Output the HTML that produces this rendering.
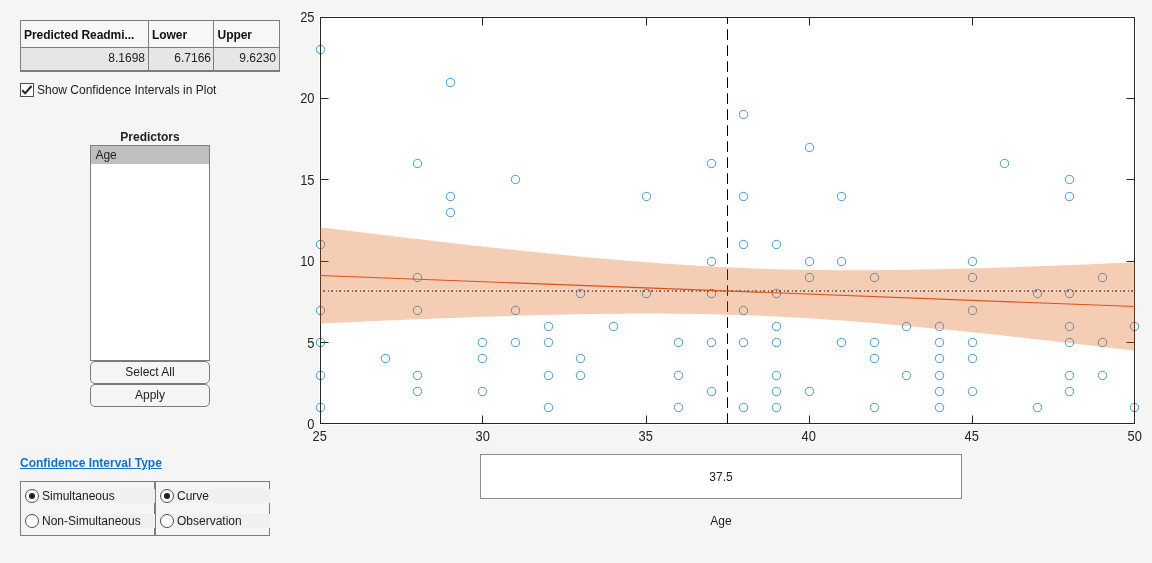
<!DOCTYPE html>
<html><head><meta charset="utf-8"><title>Prediction Slice Plots</title>
<style>
html,body{margin:0;padding:0}
body{width:1152px;height:563px;background:#f5f5f5;position:relative;overflow:hidden;font-family:"Liberation Sans",sans-serif;font-size:12px;color:#212121}
.abs{position:absolute;box-sizing:border-box}
.tbl{left:20px;top:20px;width:260px;height:52px;border:1px solid #7d7d7d;border-bottom:2px solid #7d7d7d;background:#f7f7f7}
.tbl .h{position:absolute;top:0;height:27px;line-height:29px;font-weight:bold;color:#111;letter-spacing:-0.06px;padding-left:3px;box-sizing:border-box;border-bottom:1px solid #7d7d7d;white-space:nowrap;overflow:hidden}
.tbl .d{position:absolute;top:27px;height:22px;line-height:21px;text-align:right;padding-right:3px;box-sizing:border-box;background:#e6e6e6}
.c1{left:0;width:128px;border-right:1px solid #7d7d7d}
.c2{left:128px;width:65px;border-right:1px solid #7d7d7d}
.c3{left:193px;width:65px}
.cb{left:20px;top:83px;width:14px;height:14px;border:1px solid #4d4d4d;background:#fff}
.btn{left:90px;width:120px;height:23px;border:1px solid #7a7a7a;border-radius:5px;text-align:center;line-height:21px;background:#f5f5f5}
.grp{border:1px solid #7d7d7d;top:481px;height:55px}
.row{position:absolute;height:14px;background:#f0f0f0;line-height:14px;white-space:nowrap}
.rad{position:absolute;left:0;top:0;width:14px;height:14px;border:1px solid #4d4d4d;border-radius:50%;background:#fff;box-sizing:border-box}
.rad.on::after{content:"";position:absolute;left:3px;top:3px;width:6px;height:6px;border-radius:50%;background:#212121}
.row span{position:absolute;left:17px;top:0}
#w{position:absolute;left:0;top:0;width:1152px;height:563px;will-change:transform}
</style></head><body><div id="w">
<svg width="1152" height="563" viewBox="0 0 1152 563" style="position:absolute;left:0;top:0">
<defs><clipPath id="cp"><rect x="320.5" y="17.5" width="814.0" height="406.0"/></clipPath><clipPath id="cp2"><rect x="320" y="17" width="815" height="407"/></clipPath></defs>
<rect x="319" y="16" width="817" height="409" fill="#fff"/>
<g fill="none" stroke="#0072BD" stroke-width="0.7"><circle cx="320.50" cy="49.50" r="4.2"/><circle cx="320.50" cy="244.50" r="4.2"/><circle cx="320.50" cy="310.50" r="4.2"/><circle cx="320.50" cy="342.50" r="4.2"/><circle cx="320.50" cy="375.50" r="4.2"/><circle cx="320.50" cy="407.50" r="4.2"/><circle cx="385.50" cy="358.50" r="4.2"/><circle cx="417.50" cy="163.50" r="4.2"/><circle cx="417.50" cy="277.50" r="4.2"/><circle cx="417.50" cy="310.50" r="4.2"/><circle cx="417.50" cy="375.50" r="4.2"/><circle cx="417.50" cy="391.50" r="4.2"/><circle cx="450.50" cy="82.50" r="4.2"/><circle cx="450.50" cy="196.50" r="4.2"/><circle cx="450.50" cy="212.50" r="4.2"/><circle cx="482.50" cy="342.50" r="4.2"/><circle cx="482.50" cy="358.50" r="4.2"/><circle cx="482.50" cy="391.50" r="4.2"/><circle cx="515.50" cy="179.50" r="4.2"/><circle cx="515.50" cy="310.50" r="4.2"/><circle cx="515.50" cy="342.50" r="4.2"/><circle cx="548.50" cy="326.50" r="4.2"/><circle cx="548.50" cy="342.50" r="4.2"/><circle cx="548.50" cy="375.50" r="4.2"/><circle cx="548.50" cy="407.50" r="4.2"/><circle cx="580.50" cy="293.50" r="4.2"/><circle cx="580.50" cy="358.50" r="4.2"/><circle cx="580.50" cy="375.50" r="4.2"/><circle cx="613.50" cy="326.50" r="4.2"/><circle cx="646.50" cy="196.50" r="4.2"/><circle cx="646.50" cy="293.50" r="4.2"/><circle cx="678.50" cy="342.50" r="4.2"/><circle cx="678.50" cy="375.50" r="4.2"/><circle cx="678.50" cy="407.50" r="4.2"/><circle cx="711.50" cy="163.50" r="4.2"/><circle cx="711.50" cy="261.50" r="4.2"/><circle cx="711.50" cy="293.50" r="4.2"/><circle cx="711.50" cy="342.50" r="4.2"/><circle cx="711.50" cy="391.50" r="4.2"/><circle cx="743.50" cy="114.50" r="4.2"/><circle cx="743.50" cy="196.50" r="4.2"/><circle cx="743.50" cy="244.50" r="4.2"/><circle cx="743.50" cy="310.50" r="4.2"/><circle cx="743.50" cy="342.50" r="4.2"/><circle cx="743.50" cy="407.50" r="4.2"/><circle cx="776.50" cy="244.50" r="4.2"/><circle cx="776.50" cy="293.50" r="4.2"/><circle cx="776.50" cy="326.50" r="4.2"/><circle cx="776.50" cy="342.50" r="4.2"/><circle cx="776.50" cy="375.50" r="4.2"/><circle cx="776.50" cy="391.50" r="4.2"/><circle cx="776.50" cy="407.50" r="4.2"/><circle cx="809.50" cy="147.50" r="4.2"/><circle cx="809.50" cy="261.50" r="4.2"/><circle cx="809.50" cy="277.50" r="4.2"/><circle cx="809.50" cy="391.50" r="4.2"/><circle cx="841.50" cy="196.50" r="4.2"/><circle cx="841.50" cy="261.50" r="4.2"/><circle cx="841.50" cy="342.50" r="4.2"/><circle cx="874.50" cy="277.50" r="4.2"/><circle cx="874.50" cy="342.50" r="4.2"/><circle cx="874.50" cy="358.50" r="4.2"/><circle cx="874.50" cy="407.50" r="4.2"/><circle cx="906.50" cy="326.50" r="4.2"/><circle cx="906.50" cy="375.50" r="4.2"/><circle cx="939.50" cy="326.50" r="4.2"/><circle cx="939.50" cy="342.50" r="4.2"/><circle cx="939.50" cy="358.50" r="4.2"/><circle cx="939.50" cy="375.50" r="4.2"/><circle cx="939.50" cy="391.50" r="4.2"/><circle cx="939.50" cy="407.50" r="4.2"/><circle cx="972.50" cy="261.50" r="4.2"/><circle cx="972.50" cy="277.50" r="4.2"/><circle cx="972.50" cy="310.50" r="4.2"/><circle cx="972.50" cy="342.50" r="4.2"/><circle cx="972.50" cy="358.50" r="4.2"/><circle cx="972.50" cy="391.50" r="4.2"/><circle cx="1004.50" cy="163.50" r="4.2"/><circle cx="1037.50" cy="293.50" r="4.2"/><circle cx="1037.50" cy="407.50" r="4.2"/><circle cx="1069.50" cy="179.50" r="4.2"/><circle cx="1069.50" cy="196.50" r="4.2"/><circle cx="1069.50" cy="293.50" r="4.2"/><circle cx="1069.50" cy="326.50" r="4.2"/><circle cx="1069.50" cy="342.50" r="4.2"/><circle cx="1069.50" cy="375.50" r="4.2"/><circle cx="1069.50" cy="391.50" r="4.2"/><circle cx="1102.50" cy="277.50" r="4.2"/><circle cx="1102.50" cy="342.50" r="4.2"/><circle cx="1102.50" cy="375.50" r="4.2"/><circle cx="1134.50" cy="326.50" r="4.2"/><circle cx="1134.50" cy="407.50" r="4.2"/></g>
<g fill="none" stroke="#262626" stroke-width="1"><rect x="320.5" y="17.5" width="814.0" height="406.0"/><path d="M482.50 423.5v-8 M482.50 17.5v8"/><path d="M646.50 423.5v-8 M646.50 17.5v8"/><path d="M809.50 423.5v-8 M809.50 17.5v8"/><path d="M972.50 423.5v-8 M972.50 17.5v8"/><path d="M320.5 342.50h8 M1134.5 342.50h-8"/><path d="M320.5 261.50h8 M1134.5 261.50h-8"/><path d="M320.5 179.50h8 M1134.5 179.50h-8"/><path d="M320.5 98.50h8 M1134.5 98.50h-8"/></g>
<line x1="727.5" y1="423.9" x2="727.5" y2="17.5" stroke="#000" stroke-width="1" stroke-dasharray="10.67 5.33"/>
<path d="M320.00 227.36 L328.15 228.36 L336.30 229.36 L344.45 230.35 L352.60 231.34 L360.75 232.33 L368.90 233.31 L377.05 234.29 L385.20 235.27 L393.35 236.24 L401.50 237.21 L409.65 238.17 L417.80 239.12 L425.95 240.07 L434.10 241.02 L442.25 241.96 L450.40 242.89 L458.55 243.81 L466.70 244.73 L474.85 245.64 L483.00 246.55 L491.15 247.44 L499.30 248.33 L507.45 249.21 L515.60 250.08 L523.75 250.94 L531.90 251.79 L540.05 252.62 L548.20 253.45 L556.35 254.26 L564.50 255.07 L572.65 255.85 L580.80 256.63 L588.95 257.39 L597.10 258.13 L605.25 258.86 L613.40 259.57 L621.55 260.26 L629.70 260.94 L637.85 261.60 L646.00 262.23 L654.15 262.85 L662.30 263.44 L670.45 264.01 L678.60 264.56 L686.75 265.09 L694.90 265.59 L703.05 266.06 L711.20 266.51 L719.35 266.94 L727.50 267.34 L735.65 267.71 L743.80 268.06 L751.95 268.38 L760.10 268.67 L768.25 268.93 L776.40 269.17 L784.55 269.39 L792.70 269.57 L800.85 269.73 L809.00 269.87 L817.15 269.98 L825.30 270.07 L833.45 270.14 L841.60 270.18 L849.75 270.20 L857.90 270.20 L866.05 270.17 L874.20 270.13 L882.35 270.07 L890.50 269.99 L898.65 269.90 L906.80 269.79 L914.95 269.66 L923.10 269.52 L931.25 269.36 L939.40 269.19 L947.55 269.00 L955.70 268.81 L963.85 268.60 L972.00 268.38 L980.15 268.15 L988.30 267.91 L996.45 267.65 L1004.60 267.39 L1012.75 267.13 L1020.90 266.85 L1029.05 266.56 L1037.20 266.27 L1045.35 265.97 L1053.50 265.67 L1061.65 265.35 L1069.80 265.03 L1077.95 264.71 L1086.10 264.38 L1094.25 264.04 L1102.40 263.70 L1110.55 263.36 L1118.70 263.01 L1126.85 262.65 L1135.00 262.29 L1135.00 350.79 L1126.85 349.81 L1118.70 348.84 L1110.55 347.86 L1102.40 346.90 L1094.25 345.93 L1086.10 344.98 L1077.95 344.02 L1069.80 343.08 L1061.65 342.14 L1053.50 341.20 L1045.35 340.27 L1037.20 339.35 L1029.05 338.44 L1020.90 337.53 L1012.75 336.63 L1004.60 335.74 L996.45 334.86 L988.30 333.99 L980.15 333.12 L972.00 332.27 L963.85 331.43 L955.70 330.60 L947.55 329.78 L939.40 328.97 L931.25 328.18 L923.10 327.40 L914.95 326.64 L906.80 325.89 L898.65 325.15 L890.50 324.43 L882.35 323.73 L874.20 323.05 L866.05 322.39 L857.90 321.75 L849.75 321.12 L841.60 320.52 L833.45 319.94 L825.30 319.38 L817.15 318.85 L809.00 318.34 L800.85 317.85 L792.70 317.39 L784.55 316.96 L776.40 316.55 L768.25 316.17 L760.10 315.81 L751.95 315.48 L743.80 315.18 L735.65 314.90 L727.50 314.65 L719.35 314.43 L711.20 314.23 L703.05 314.06 L694.90 313.92 L686.75 313.80 L678.60 313.70 L670.45 313.63 L662.30 313.58 L654.15 313.55 L646.00 313.54 L637.85 313.56 L629.70 313.59 L621.55 313.64 L613.40 313.71 L605.25 313.80 L597.10 313.91 L588.95 314.03 L580.80 314.17 L572.65 314.32 L564.50 314.49 L556.35 314.67 L548.20 314.86 L540.05 315.06 L531.90 315.28 L523.75 315.51 L515.60 315.74 L507.45 315.99 L499.30 316.25 L491.15 316.51 L483.00 316.79 L474.85 317.07 L466.70 317.36 L458.55 317.65 L450.40 317.96 L442.25 318.27 L434.10 318.59 L425.95 318.91 L417.80 319.24 L409.65 319.57 L401.50 319.91 L393.35 320.25 L385.20 320.60 L377.05 320.96 L368.90 321.31 L360.75 321.67 L352.60 322.04 L344.45 322.41 L336.30 322.78 L328.15 323.16 L320.00 323.54Z" fill="#DE5805" fill-opacity="0.3" clip-path="url(#cp2)"/>
<line x1="323" y1="291.00" x2="1134.5" y2="291.00" stroke="#262626" stroke-opacity="0.75" stroke-width="1.33" stroke-dasharray="2 3 1 2"/>
<line x1="320.00" y1="275.45" x2="1135.00" y2="306.54" stroke="#D95319" stroke-width="1.1"/>
<g font-family="Liberation Sans, sans-serif" font-size="14" fill="#262626"><text transform="translate(319.65,441.2) scale(0.92,1)" text-anchor="middle">25</text><text transform="translate(482.65,441.2) scale(0.92,1)" text-anchor="middle">30</text><text transform="translate(645.65,441.2) scale(0.92,1)" text-anchor="middle">35</text><text transform="translate(808.65,441.2) scale(0.92,1)" text-anchor="middle">40</text><text transform="translate(971.65,441.2) scale(0.92,1)" text-anchor="middle">45</text><text transform="translate(1134.65,441.2) scale(0.92,1)" text-anchor="middle">50</text><text transform="translate(314.5,429.00) scale(0.92,1)" text-anchor="end">0</text><text transform="translate(314.5,347.60) scale(0.92,1)" text-anchor="end">5</text><text transform="translate(314.5,266.20) scale(0.92,1)" text-anchor="end">10</text><text transform="translate(314.5,184.80) scale(0.92,1)" text-anchor="end">15</text><text transform="translate(314.5,103.40) scale(0.92,1)" text-anchor="end">20</text><text transform="translate(314.5,22.00) scale(0.92,1)" text-anchor="end">25</text></g>
</svg>
<div class="abs tbl">
 <div class="h c1">Predicted Readmi...</div><div class="h c2">Lower</div><div class="h c3" style="padding-left:3.6px">Upper</div>
 <div class="d c1">8.1698</div><div class="d c2" style="padding-right:2px">6.7166</div><div class="d c3">9.6230</div>
</div>
<div class="abs cb"><svg width="12" height="12" viewBox="0 0 12 12" style="position:absolute;left:0;top:0"><path d="M1.2 6.2 L4.2 9.3 L10.5 2" fill="none" stroke="#262626" stroke-width="2"/></svg></div>
<div class="abs" style="left:37px;top:83px;line-height:14px;white-space:nowrap">Show Confidence Intervals in Plot</div>
<div class="abs" style="left:90px;top:130px;width:120px;text-align:center;font-weight:bold;line-height:14px">Predictors</div>
<div class="abs" style="left:90px;top:145px;width:120px;height:216px;border:1px solid #7d7d7d;background:#fff">
  <div style="height:18px;line-height:18px;background:#bfbfbf;padding-left:4.4px">Age</div>
</div>
<div class="abs btn" style="top:361px">Select All</div>
<div class="abs btn" style="top:384px">Apply</div>
<div class="abs" style="left:20px;top:456px;line-height:14px;font-weight:bold;color:#1171c4;text-decoration:underline;white-space:nowrap">Confidence Interval Type</div>
<div class="abs grp" style="left:20px;width:135px"></div>
<div class="abs grp" style="left:155px;width:115px"></div>
<div class="row" style="left:25px;top:489px;width:130px"><div class="rad on"></div><span>Simultaneous</span></div>
<div class="row" style="left:25px;top:514px;width:130px"><div class="rad"></div><span>Non-Simultaneous</span></div>
<div class="row" style="left:160px;top:489px;width:110px"><div class="rad on"></div><span>Curve</span></div>
<div class="row" style="left:160px;top:514px;width:110px"><div class="rad"></div><span>Observation</span></div>
<div class="abs" style="left:480px;top:454px;width:482px;height:45px;border:1px solid #8c8c8c;background:#fff;text-align:center;line-height:45px">37.5</div>
<div class="abs" style="left:480px;top:514px;width:482px;text-align:center;line-height:14px">Age</div>
</div></body></html>
